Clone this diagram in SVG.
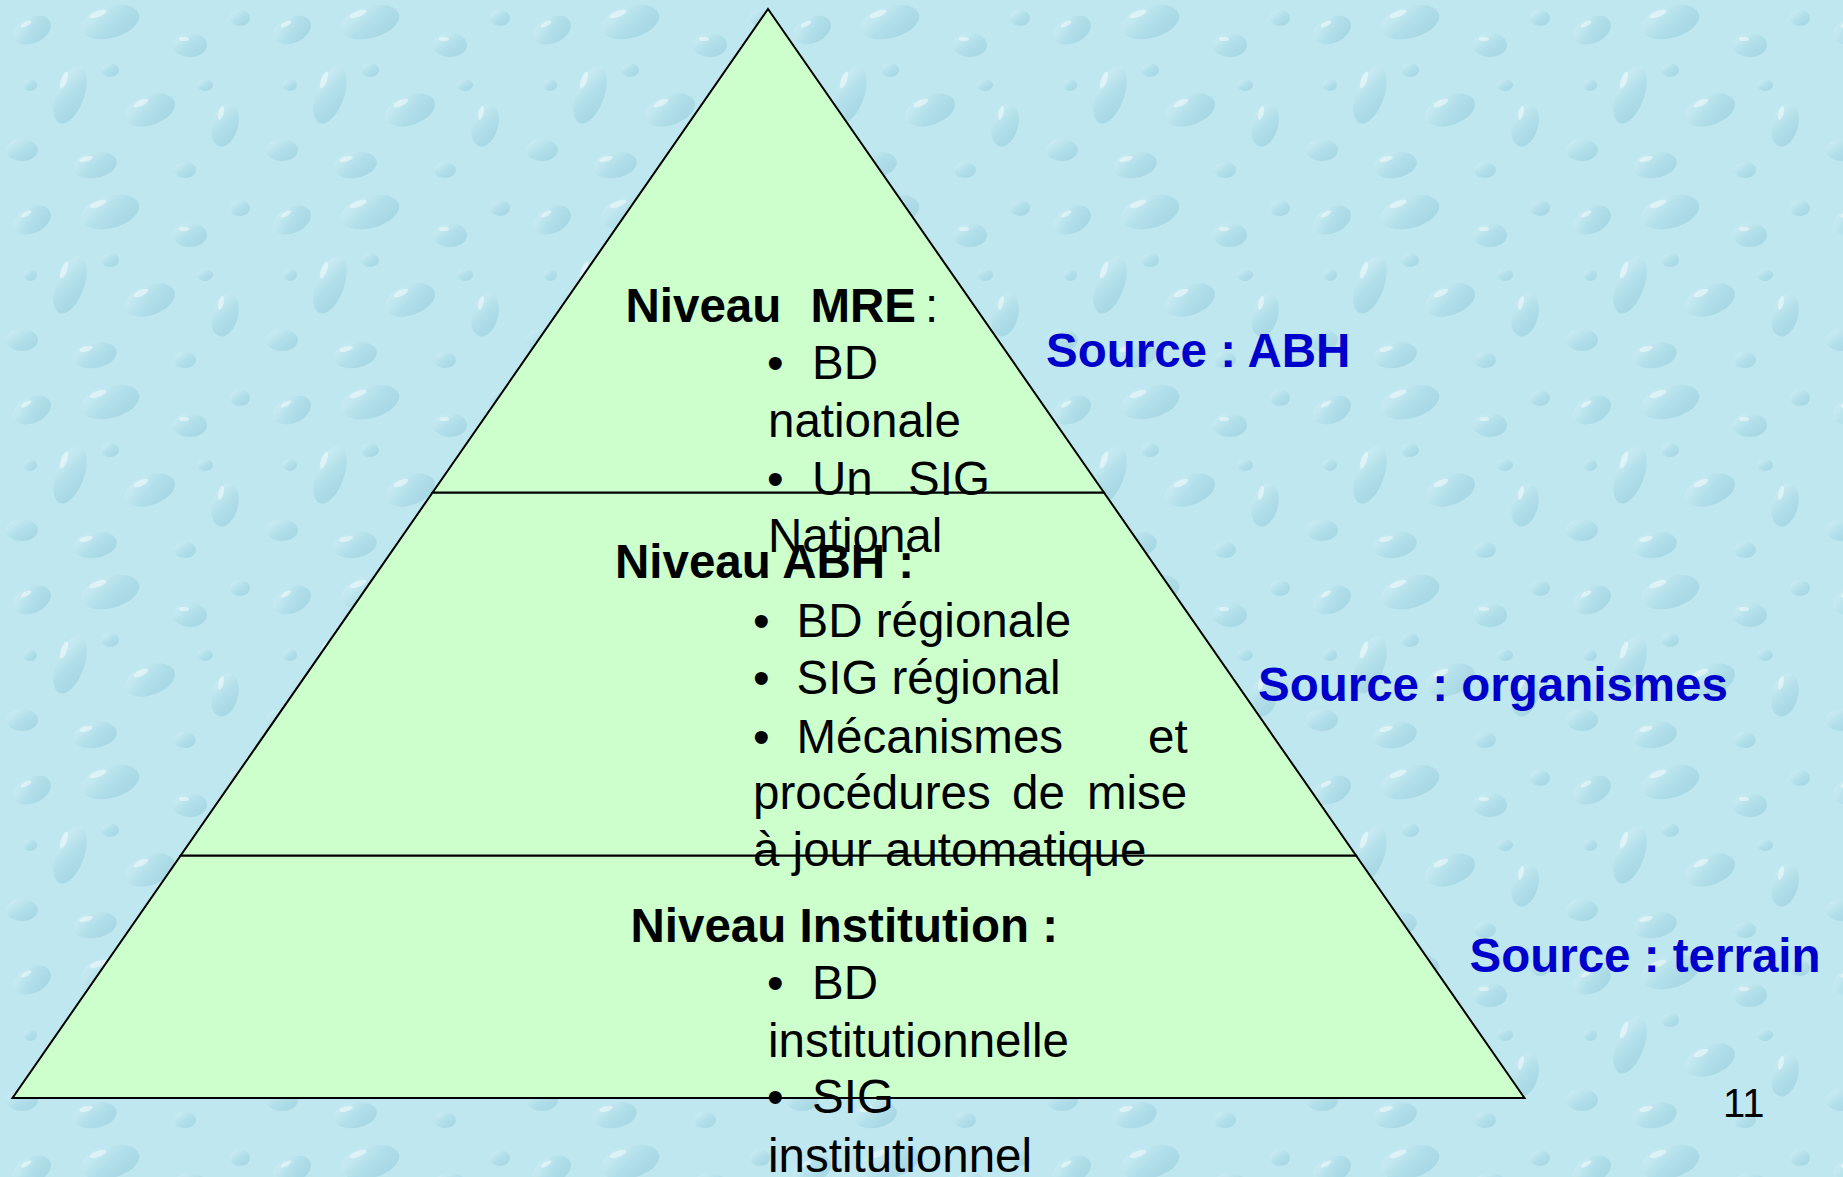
<svg xmlns="http://www.w3.org/2000/svg" width="1843" height="1177" viewBox="0 0 1843 1177">
  <defs>
    <linearGradient id="drop" x1="0" y1="0" x2="1" y2="1">
      <stop offset="0" stop-color="#e4f8fc" stop-opacity="0.9"/>
      <stop offset="0.5" stop-color="#a6d8e4"/>
      <stop offset="1" stop-color="#8cc6d6"/>
    </linearGradient>
    <pattern id="water" x="0" y="0" width="260" height="190" patternUnits="userSpaceOnUse">
      <rect width="260" height="190" fill="#bfe7f0"/>
      <g fill="url(#drop)" opacity="0.55">
        <ellipse cx="32" cy="30" rx="20" ry="13" transform="rotate(-25 32 30)"/>
        <ellipse cx="110" cy="22" rx="30" ry="16" transform="rotate(-15 110 22)"/>
        <ellipse cx="190" cy="45" rx="17" ry="12"/>
        <ellipse cx="240" cy="18" rx="10" ry="8"/>
        <ellipse cx="70" cy="95" rx="14" ry="30" transform="rotate(20 70 95)"/>
        <ellipse cx="150" cy="110" rx="26" ry="15" transform="rotate(-20 150 110)"/>
        <ellipse cx="22" cy="150" rx="16" ry="11"/>
        <ellipse cx="225" cy="125" rx="13" ry="22" transform="rotate(15 225 125)"/>
        <ellipse cx="110" cy="70" rx="9" ry="7"/>
        <ellipse cx="95" cy="165" rx="22" ry="13" transform="rotate(-10 95 165)"/>
        <ellipse cx="185" cy="170" rx="11" ry="8"/>
        <ellipse cx="30" cy="85" rx="7" ry="6"/>
        <ellipse cx="205" cy="85" rx="8" ry="6"/>
      </g>
      <g fill="#ffffff" opacity="0.45">
        <ellipse cx="26" cy="24" rx="6" ry="2.2" transform="rotate(-30 26 24)"/>
        <ellipse cx="98" cy="14" rx="9" ry="3" transform="rotate(-20 98 14)"/>
        <ellipse cx="184" cy="39" rx="5" ry="2"/>
        <ellipse cx="64" cy="80" rx="3" ry="9" transform="rotate(20 64 80)"/>
        <ellipse cx="141" cy="103" rx="8" ry="3" transform="rotate(-25 141 103)"/>
        <ellipse cx="86" cy="159" rx="7" ry="2.5" transform="rotate(-15 86 159)"/>
        <ellipse cx="221" cy="113" rx="2.5" ry="7" transform="rotate(15 221 113)"/>
      </g>
    </pattern>
    <style>
      .lvl { fill: #ccffcc; stroke: #000000; stroke-width: 2; stroke-linejoin: miter; }
      .t { font-family: "Liberation Sans", Arial, sans-serif; font-size: 47.5px; fill: #000000; }
      .b { font-weight: bold; }
      .src { font-family: "Liberation Sans", Arial, sans-serif; font-size: 47.5px; font-weight: bold; fill: #0000cc; }
      .num { font-family: "Liberation Sans", Arial, sans-serif; font-size: 40px; fill: #000000; }
    </style>
  </defs>

  <rect x="0" y="0" width="1843" height="1177" fill="url(#water)"/>

  <!-- Bottom level -->
  <g id="niveau-institution">
    <polygon class="lvl" points="180.7,855.5 1356,855.5 1524.5,1098 12.5,1098"/>
    <text class="t b" x="630.5" y="942.3">Niveau Institution :</text>
    <text class="t" x="767" y="999">•</text>
    <text class="t" x="812" y="999">BD</text>
    <text class="t" x="768" y="1056.7">institutionnelle</text>
    <text class="t" x="767" y="1113.3">•</text>
    <text class="t" x="812" y="1113.3">SIG</text>
    <text class="t" x="768" y="1171.7">institutionnel</text>
  </g>

  <!-- Middle level -->
  <g id="niveau-abh">
    <polygon class="lvl" points="432.6,492.5 1103.9,492.5 1356,855.5 180.7,855.5"/>
    <text class="t b" x="615" y="578.3">Niveau ABH :</text>
    <text class="t" x="753" y="636.7">•</text>
    <text class="t" x="796.5" y="636.7">BD régionale</text>
    <text class="t" x="753" y="694.3">•</text>
    <text class="t" x="796.5" y="694.3">SIG régional</text>
    <text class="t" x="753" y="752.7">•</text>
    <text class="t" x="796.5" y="752.7">Mécanismes</text>
    <text class="t" x="1148" y="752.7">et</text>
    <text class="t" x="753" y="809.3">procédures</text>
    <text class="t" x="1012" y="809.3">de</text>
    <text class="t" x="1087" y="809.3">mise</text>
    <text class="t" x="753" y="866">à jour automatique</text>
  </g>

  <!-- Top level -->
  <g id="niveau-mre">
    <polygon class="lvl" points="768,9 1103.9,492.5 432.6,492.5"/>
    <text class="t b" x="625.5" y="322.3">Niveau</text>
    <text class="t b" x="810.5" y="322.3">MRE</text>
    <text class="t" x="925" y="322.3">:</text>
    <text class="t" x="767" y="379">•</text>
    <text class="t" x="812" y="379">BD</text>
    <text class="t" x="768" y="436.7">nationale</text>
    <text class="t" x="767" y="495">•</text>
    <text class="t" x="812" y="495">Un</text>
    <text class="t" x="908" y="495">SIG</text>
    <text class="t" x="768" y="551.7">National</text>
  </g>

  <!-- Sources -->
  <g id="sources">
    <text id="source-abh" class="src" x="1046" y="366.7">Source : ABH</text>
    <text id="source-organismes" class="src" x="1258" y="701">Source : organismes</text>
    <text id="source-terrain" class="src" x="1469.5" y="971.7">Source : terrain</text>
  </g>

  <text id="page-number" class="num" x="1723" y="1117">11</text>
</svg>
